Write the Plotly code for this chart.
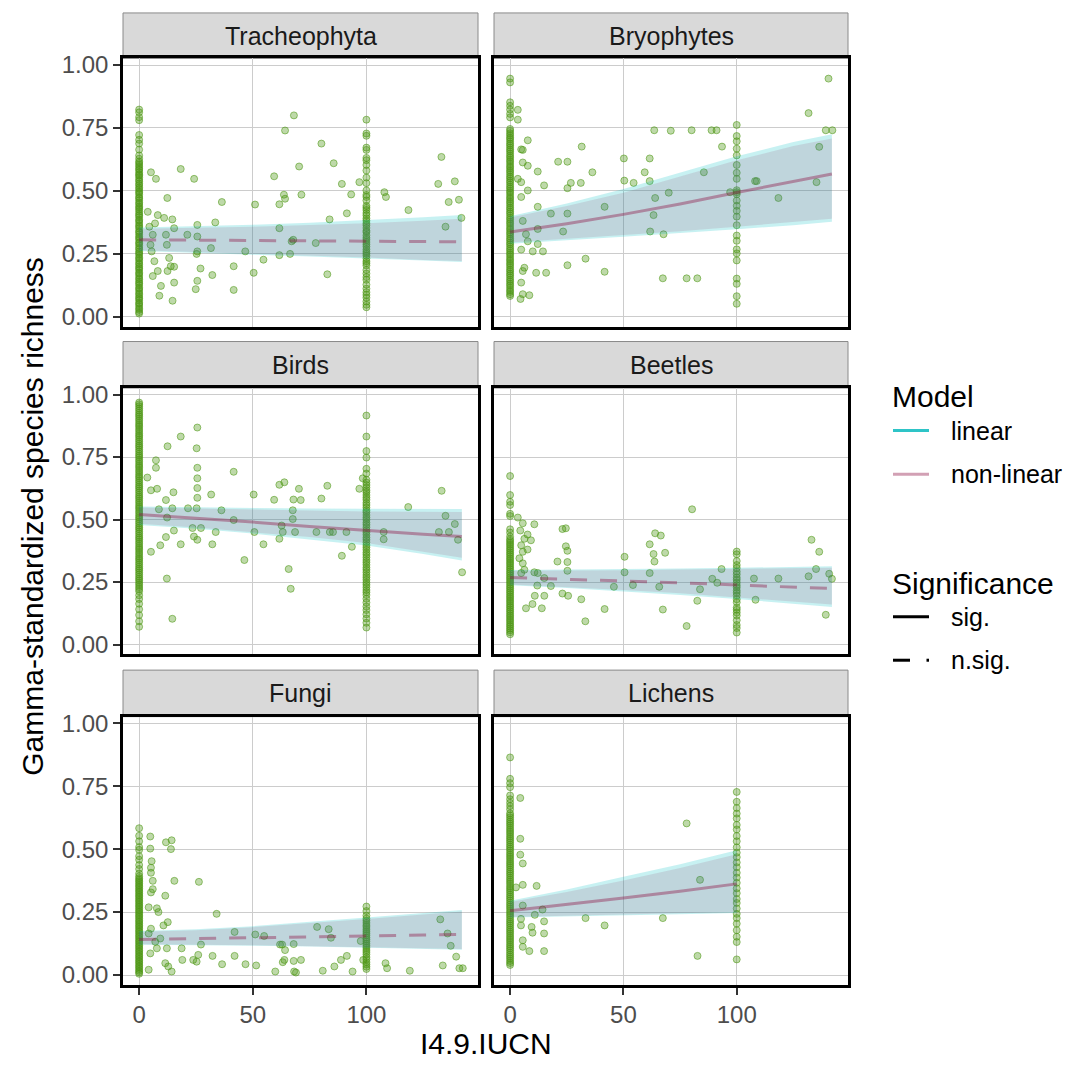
import plotly.graph_objects as go

# ---------------------------------------------------------------- data
taxa = ["Tracheophyta", "Bryophytes", "Birds", "Beetles", "Fungi", "Lichens"]
significant = [False, True, True, False, False, True]
y_ticks = [0.0, 0.25, 0.5, 0.75, 1.0]
y_tick_labels = ["0.00", "0.25", "0.50", "0.75", "1.00"]
x_ticks = [0, 50, 100]
x_tick_labels = ["0", "50", "100"]

# Tracheophyta
tra_at0 = [0.823, 0.812, 0.793, 0.781, 0.722, 0.703, 0.688, 0.664, 0.641, 0.628, 0.617, 0.611,
           0.603, 0.596, 0.588, 0.583, 0.574, 0.566, 0.561, 0.553, 0.544, 0.538, 0.529, 0.523,
           0.514, 0.508, 0.499, 0.493, 0.486, 0.476, 0.471, 0.463, 0.454, 0.448, 0.439, 0.433,
           0.426, 0.418, 0.409, 0.403, 0.396, 0.386, 0.381, 0.373, 0.364, 0.358, 0.351, 0.341,
           0.336, 0.328, 0.319, 0.313, 0.306, 0.296, 0.291, 0.283, 0.274, 0.268, 0.259, 0.253,
           0.246, 0.236, 0.231, 0.223, 0.214, 0.208, 0.199, 0.193, 0.186, 0.176, 0.171, 0.163,
           0.154, 0.148, 0.139, 0.133, 0.126, 0.116, 0.111, 0.103, 0.094, 0.088, 0.079, 0.073,
           0.066, 0.056, 0.051, 0.043, 0.034, 0.028, 0.019, 0.013]
tra_at100 = [0.783, 0.728, 0.719, 0.672, 0.663, 0.631, 0.622, 0.603, 0.581, 0.553, 0.531, 0.502,
             0.484, 0.476, 0.462, 0.441, 0.433, 0.424, 0.412, 0.403, 0.391, 0.382, 0.372, 0.364,
             0.353, 0.342, 0.336, 0.324, 0.314, 0.306, 0.297, 0.288, 0.279, 0.268, 0.259, 0.251,
             0.243, 0.232, 0.221, 0.213, 0.204, 0.186, 0.172, 0.158, 0.147, 0.128, 0.112, 0.098,
             0.087, 0.076, 0.061, 0.048, 0.038]
tra_other = [(18.3, 0.587), (24.2, 0.548), (5.2, 0.574), (7.4, 0.548), (12.4, 0.472), (11.0, 0.393),
             (14.6, 0.387), (15.4, 0.352), (21.2, 0.326), (25.6, 0.365), (25.6, 0.319), (33.5, 0.375),
             (36.4, 0.456), (31.6, 0.273), (25.6, 0.26), (25.3, 0.25), (27.0, 0.192), (32.2, 0.166),
             (25.6, 0.143), (24.9, 0.11), (41.6, 0.201), (41.6, 0.107), (46.7, 0.26), (50.4, 0.175),
             (51.0, 0.446), (54.7, 0.227), (59.4, 0.558), (61.7, 0.352), (61.7, 0.447), (63.7, 0.485),
             (64.2, 0.469), (64.2, 0.74), (68.1, 0.80), (70.4, 0.597), (71.4, 0.485), (67.1, 0.30),
             (66.4, 0.25), (61.7, 0.245), (67.8, 0.306), (77.7, 0.293), (80.2, 0.688), (83.8, 0.387),
             (82.8, 0.169), (85.6, 0.61), (89.2, 0.528), (91.4, 0.411), (93.3, 0.486), (96.9, 0.535),
             (107.9, 0.495), (108.6, 0.476), (118.5, 0.424), (131.6, 0.528), (133.0, 0.635),
             (134.8, 0.358), (136.2, 0.456), (138.9, 0.538), (140.7, 0.465), (141.8, 0.393),
             (3.8, 0.417), (4.5, 0.358), (6.0, 0.326), (7.0, 0.371), (8.2, 0.404), (5.0, 0.286),
             (6.7, 0.221), (8.2, 0.182), (9.6, 0.123), (8.9, 0.084), (14.7, 0.064), (15.4, 0.136),
             (12.5, 0.182), (13.9, 0.201), (11.8, 0.326), (12.2, 0.286), (13.2, 0.234), (6.0, 0.162),
             (5.5, 0.26), (15.4, 0.199)]
tra_fit_x = [0, 25, 50, 75, 100, 125, 142]
tra_fit = [0.306, 0.305, 0.304, 0.302, 0.301, 0.299, 0.298]
tra_nl_lo = [0.265, 0.258, 0.250, 0.243, 0.236, 0.226, 0.222]
tra_nl_hi = [0.350, 0.353, 0.358, 0.365, 0.372, 0.382, 0.390]
tra_lin_lo = [0.262, 0.255, 0.247, 0.240, 0.233, 0.224, 0.218]
tra_lin_hi = [0.355, 0.360, 0.366, 0.374, 0.384, 0.396, 0.404]

# Bryophytes
bry_at0 = [0.946, 0.931, 0.852, 0.838, 0.823, 0.806, 0.792, 0.746, 0.738, 0.729, 0.721, 0.712,
           0.706, 0.697, 0.688, 0.681, 0.672, 0.664, 0.657, 0.648, 0.639, 0.632, 0.623, 0.616,
           0.607, 0.598, 0.591, 0.582, 0.575, 0.566, 0.557, 0.55, 0.541, 0.534, 0.525, 0.516,
           0.509, 0.5, 0.493, 0.484, 0.475, 0.468, 0.459, 0.452, 0.443, 0.434, 0.427, 0.418,
           0.411, 0.402, 0.393, 0.386, 0.377, 0.37, 0.361, 0.352, 0.345, 0.336, 0.329, 0.32,
           0.311, 0.304, 0.295, 0.288, 0.279, 0.27, 0.263, 0.254, 0.247, 0.238, 0.229, 0.222,
           0.213, 0.206, 0.197, 0.188, 0.181, 0.172, 0.165, 0.156, 0.147, 0.14, 0.131, 0.124,
           0.115, 0.106, 0.099, 0.09, 0.083]
bry_at100 = [0.762, 0.718, 0.697, 0.668, 0.641, 0.603, 0.572, 0.548, 0.503, 0.495, 0.487, 0.462,
             0.441, 0.421, 0.398, 0.364, 0.323, 0.302, 0.268, 0.252, 0.224, 0.152, 0.131, 0.082,
             0.052]
bry_other = [(3.4, 0.822), (3.4, 0.783), (7.8, 0.701), (4.9, 0.665), (5.6, 0.663), (5.6, 0.613),
             (7.8, 0.60), (12.2, 0.577), (3.4, 0.548), (4.9, 0.535), (7.8, 0.502), (4.9, 0.476),
             (15.0, 0.522), (12.2, 0.437), (5.6, 0.381), (7.0, 0.328), (12.2, 0.349), (7.8, 0.30),
             (12.2, 0.289), (4.9, 0.267), (10.0, 0.26), (14.5, 0.26), (6.3, 0.195), (5.6, 0.182),
             (11.5, 0.175), (15.9, 0.175), (4.9, 0.136), (5.6, 0.09), (8.5, 0.086), (4.6, 0.071),
             (21.2, 0.616), (25.3, 0.616), (31.6, 0.676), (36.3, 0.574), (31.2, 0.532), (26.8, 0.532),
             (25.3, 0.511), (18.0, 0.41), (25.3, 0.41), (23.4, 0.339), (33.3, 0.231), (25.3, 0.205),
             (41.7, 0.437), (41.7, 0.179), (50.2, 0.629), (50.4, 0.541), (54.5, 0.532), (61.6, 0.629),
             (59.4, 0.574), (61.6, 0.539), (64.0, 0.472), (63.3, 0.404), (61.8, 0.339), (67.7, 0.328),
             (70.0, 0.493), (67.4, 0.153), (77.9, 0.153), (82.6, 0.153), (63.6, 0.741), (70.9, 0.739),
             (80.1, 0.741), (88.9, 0.741), (91.1, 0.741), (85.5, 0.574), (93.5, 0.676), (97.1, 0.495),
             (108.1, 0.539), (108.8, 0.539), (118.4, 0.472), (131.7, 0.809), (140.5, 0.946),
             (139.3, 0.741), (142.2, 0.741), (136.4, 0.675), (135.2, 0.535)]
bry_fit_x = [0, 25, 50, 75, 100, 125, 142]
bry_fit = [0.337, 0.370, 0.407, 0.448, 0.494, 0.537, 0.567]
bry_nl_lo = [0.295, 0.310, 0.325, 0.340, 0.358, 0.376, 0.390]
bry_nl_hi = [0.395, 0.440, 0.493, 0.557, 0.622, 0.678, 0.708]
bry_lin_lo = [0.290, 0.304, 0.318, 0.332, 0.348, 0.364, 0.378]
bry_lin_hi = [0.400, 0.450, 0.508, 0.574, 0.638, 0.694, 0.725]

# Birds
bir_at0 = [0.968, 0.961, 0.953, 0.944, 0.936, 0.927, 0.919, 0.912, 0.903, 0.895, 0.886, 0.878,
           0.871, 0.862, 0.854, 0.845, 0.837, 0.83, 0.821, 0.813, 0.804, 0.796, 0.789, 0.78,
           0.772, 0.763, 0.755, 0.748, 0.739, 0.731, 0.722, 0.714, 0.707, 0.698, 0.69, 0.681,
           0.673, 0.666, 0.657, 0.649, 0.64, 0.632, 0.625, 0.616, 0.608, 0.599, 0.591, 0.584,
           0.575, 0.567, 0.558, 0.55, 0.543, 0.534, 0.526, 0.517, 0.509, 0.502, 0.493, 0.485,
           0.476, 0.468, 0.461, 0.452, 0.444, 0.435, 0.427, 0.42, 0.411, 0.403, 0.394, 0.386,
           0.379, 0.37, 0.362, 0.353, 0.345, 0.338, 0.329, 0.321, 0.312, 0.304, 0.297, 0.288,
           0.28, 0.271, 0.263, 0.256, 0.247, 0.239, 0.23, 0.222, 0.213, 0.197, 0.182, 0.163,
           0.141, 0.118, 0.093, 0.071]
bir_at100 = [0.916, 0.832, 0.774, 0.748, 0.703, 0.684, 0.659, 0.648, 0.638, 0.628, 0.617, 0.609,
             0.598, 0.588, 0.579, 0.567, 0.558, 0.548, 0.537, 0.529, 0.518, 0.508, 0.499, 0.488,
             0.479, 0.469, 0.458, 0.449, 0.439, 0.428, 0.419, 0.409, 0.398, 0.389, 0.379, 0.368,
             0.359, 0.349, 0.338, 0.329, 0.319, 0.308, 0.299, 0.289, 0.278, 0.269, 0.259, 0.248,
             0.239, 0.229, 0.218, 0.209, 0.198, 0.183, 0.168, 0.152, 0.138, 0.121, 0.104, 0.087,
             0.068]
bir_other = [(12.5, 0.793), (18.3, 0.832), (25.6, 0.868), (25.3, 0.785), (25.6, 0.707), (25.6, 0.665),
             (25.6, 0.626), (25.6, 0.587), (25.3, 0.545), (21.5, 0.545), (15.1, 0.609), (11.8, 0.578),
             (7.4, 0.737), (7.4, 0.707), (5.2, 0.617), (7.9, 0.623), (3.6, 0.668), (8.7, 0.541),
             (12.3, 0.508), (14.6, 0.545), (15.3, 0.456), (11.8, 0.43), (9.3, 0.397), (5.2, 0.371),
             (18.3, 0.401), (12.2, 0.264), (14.6, 0.103), (23.5, 0.466), (27.2, 0.466), (25.6, 0.419),
             (24.1, 0.432), (32.2, 0.401), (33.7, 0.45), (31.7, 0.60), (36.2, 0.537), (41.6, 0.691),
             (41.6, 0.498), (46.3, 0.338), (50.4, 0.60), (50.7, 0.45), (54.7, 0.401), (59.4, 0.579),
             (61.7, 0.639), (63.9, 0.649), (61.7, 0.423), (62.7, 0.476), (63.2, 0.45), (67.6, 0.537),
             (67.6, 0.502), (67.9, 0.58), (70.3, 0.623), (71.1, 0.578), (68.6, 0.45), (65.8, 0.302),
             (66.7, 0.223), (78.0, 0.45), (80.2, 0.584), (82.8, 0.635), (83.9, 0.45), (85.3, 0.45),
             (91.2, 0.45), (89.2, 0.355), (93.6, 0.391), (96.9, 0.623), (98.4, 0.665), (107.6, 0.421),
             (107.6, 0.45), (118.4, 0.55), (131.9, 0.45), (133.1, 0.615), (134.8, 0.515),
             (136.3, 0.45), (138.9, 0.482), (140.3, 0.419), (142.1, 0.289)]
bir_fit_x = [0, 25, 50, 75, 100, 125, 142]
bir_fit = [0.520, 0.506, 0.490, 0.472, 0.455, 0.441, 0.432]
bir_nl_lo = [0.483, 0.468, 0.450, 0.430, 0.406, 0.372, 0.347]
bir_nl_hi = [0.548, 0.545, 0.540, 0.536, 0.532, 0.530, 0.530]
bir_lin_lo = [0.478, 0.463, 0.444, 0.421, 0.396, 0.362, 0.336]
bir_lin_hi = [0.552, 0.549, 0.546, 0.544, 0.543, 0.542, 0.542]

# Beetles
bee_at0 = [0.674, 0.598, 0.571, 0.558, 0.523, 0.514, 0.461, 0.448, 0.432, 0.421, 0.414, 0.406,
           0.399, 0.391, 0.383, 0.376, 0.368, 0.361, 0.353, 0.345, 0.338, 0.33, 0.323, 0.315,
           0.307, 0.3, 0.292, 0.285, 0.277, 0.269, 0.262, 0.254, 0.247, 0.239, 0.231, 0.224,
           0.216, 0.209, 0.201, 0.193, 0.186, 0.178, 0.171, 0.163, 0.155, 0.148, 0.14, 0.133,
           0.125, 0.117, 0.11, 0.102, 0.095, 0.087, 0.079, 0.072, 0.064, 0.057, 0.049, 0.041]
bee_at100 = [0.372, 0.361, 0.334, 0.318, 0.306, 0.292, 0.281, 0.268, 0.259, 0.248, 0.237, 0.228,
             0.216, 0.207, 0.196, 0.181, 0.169, 0.148, 0.139, 0.128, 0.116, 0.097, 0.078, 0.066,
             0.048]
bee_other = [(3.4, 0.508), (5.6, 0.485), (10.7, 0.481), (4.5, 0.456), (7.7, 0.44), (6.3, 0.423),
             (9.2, 0.417), (4.9, 0.397), (7.7, 0.38), (5.6, 0.371), (4.1, 0.345), (5.6, 0.325),
             (6.3, 0.299), (4.9, 0.286), (10.7, 0.289), (12.2, 0.286), (15.1, 0.266), (12.0, 0.236),
             (18.0, 0.234), (10.9, 0.195), (15.1, 0.195), (9.9, 0.162), (7.0, 0.145), (14.0, 0.145),
             (23.1, 0.462), (24.6, 0.465), (24.6, 0.393), (25.3, 0.375), (20.9, 0.332), (25.3, 0.33),
             (25.3, 0.295), (23.1, 0.204), (25.6, 0.195), (31.4, 0.181), (33.2, 0.093), (41.7, 0.142),
             (45.8, 0.231), (50.5, 0.351), (50.5, 0.289), (54.2, 0.238), (61.6, 0.401), (61.6, 0.286),
             (63.3, 0.362), (63.7, 0.332), (64.0, 0.445), (66.5, 0.436), (68.4, 0.367), (65.8, 0.231),
             (67.4, 0.14), (77.9, 0.074), (80.3, 0.541), (82.6, 0.175), (83.8, 0.221), (89.2, 0.263),
             (91.4, 0.247), (93.3, 0.302), (107.6, 0.264), (108.3, 0.179), (118.4, 0.264),
             (131.7, 0.273), (133.0, 0.419), (135.0, 0.302), (136.4, 0.371), (139.3, 0.119),
             (140.8, 0.283), (142.0, 0.263)]
bee_fit_x = [0, 25, 50, 75, 100, 125, 142]
bee_fit = [0.268, 0.262, 0.255, 0.247, 0.238, 0.230, 0.224]
bee_nl_lo = [0.240, 0.230, 0.218, 0.205, 0.190, 0.172, 0.160]
bee_nl_hi = [0.295, 0.295, 0.297, 0.300, 0.302, 0.305, 0.307]
bee_lin_lo = [0.237, 0.226, 0.213, 0.198, 0.182, 0.163, 0.150]
bee_lin_hi = [0.298, 0.299, 0.301, 0.304, 0.307, 0.310, 0.313]

# Fungi
fun_at0 = [0.583, 0.553, 0.531, 0.508, 0.497, 0.472, 0.458, 0.437, 0.421, 0.403, 0.392, 0.384,
           0.377, 0.371, 0.364, 0.357, 0.351, 0.344, 0.337, 0.331, 0.324, 0.317, 0.311, 0.304,
           0.297, 0.291, 0.284, 0.277, 0.271, 0.264, 0.257, 0.251, 0.244, 0.237, 0.231, 0.224,
           0.217, 0.211, 0.204, 0.197, 0.191, 0.184, 0.177, 0.171, 0.164, 0.157, 0.151, 0.144,
           0.137, 0.131, 0.124, 0.117, 0.111, 0.104, 0.097, 0.091, 0.084, 0.077, 0.071, 0.064,
           0.057, 0.051, 0.044, 0.037, 0.031, 0.024, 0.017, 0.011, 0.005]
fun_at100 = [0.272, 0.254, 0.236, 0.224, 0.216, 0.207, 0.198, 0.191, 0.182, 0.174, 0.166, 0.158,
             0.149, 0.141, 0.133, 0.124, 0.116, 0.108, 0.099, 0.091, 0.082, 0.071, 0.062, 0.051,
             0.042, 0.033, 0.024]
fun_other = [(4.9, 0.55), (4.9, 0.502), (5.5, 0.452), (5.2, 0.426), (5.2, 0.406), (6.0, 0.374),
             (6.0, 0.341), (5.2, 0.328), (11.8, 0.527), (14.3, 0.535), (14.0, 0.50), (15.5, 0.374),
             (11.5, 0.315), (4.2, 0.269), (7.8, 0.265), (8.5, 0.25), (10.7, 0.197), (12.6, 0.21),
             (5.2, 0.184), (4.2, 0.165), (7.1, 0.132), (9.3, 0.145), (7.8, 0.106), (12.2, 0.106),
             (11.5, 0.047), (14.3, 0.014), (4.2, 0.021), (4.9, 0.086), (12.8, 0.034), (18.7, 0.106),
             (19.0, 0.06), (23.8, 0.06), (25.3, 0.053), (26.0, 0.08), (27.2, 0.121), (26.3, 0.37),
             (34.1, 0.243), (32.3, 0.076), (36.5, 0.043), (42.0, 0.171), (42.0, 0.076), (46.8, 0.043),
             (51.1, 0.161), (51.5, 0.038), (55.0, 0.155), (59.9, 0.014), (62.0, 0.121), (62.9, 0.121),
             (63.9, 0.06), (64.2, 0.099), (63.2, 0.051), (68.0, 0.056), (68.2, 0.014), (69.0, 0.01),
             (68.0, 0.123), (71.2, 0.06), (78.3, 0.191), (80.8, 0.017), (83.4, 0.182), (84.4, 0.148),
             (85.9, 0.034), (88.8, 0.06), (91.4, 0.076), (93.9, 0.014), (97.5, 0.135), (98.6, 0.06),
             (108.4, 0.047), (109.1, 0.027), (119.1, 0.017), (132.5, 0.221), (133.6, 0.038),
             (135.7, 0.165), (137.1, 0.116), (139.5, 0.073), (140.9, 0.027), (142.4, 0.027)]
fun_fit_x = [0, 25, 50, 75, 100, 125, 142]
fun_fit = [0.141, 0.144, 0.147, 0.151, 0.155, 0.159, 0.161]
fun_nl_lo = [0.122, 0.120, 0.118, 0.115, 0.111, 0.106, 0.103]
fun_nl_hi = [0.172, 0.178, 0.190, 0.205, 0.222, 0.240, 0.252]
fun_lin_lo = [0.120, 0.118, 0.116, 0.113, 0.109, 0.104, 0.100]
fun_lin_hi = [0.175, 0.182, 0.194, 0.210, 0.228, 0.246, 0.258]

# Lichens
lic_at0 = [0.864, 0.779, 0.762, 0.746, 0.713, 0.698, 0.684, 0.671, 0.658, 0.642, 0.634, 0.626,
           0.617, 0.609, 0.601, 0.593, 0.584, 0.576, 0.568, 0.56, 0.551, 0.543, 0.535, 0.527,
           0.518, 0.51, 0.502, 0.494, 0.485, 0.477, 0.469, 0.461, 0.452, 0.444, 0.436, 0.428,
           0.419, 0.411, 0.403, 0.395, 0.386, 0.378, 0.37, 0.362, 0.353, 0.345, 0.337, 0.329,
           0.32, 0.312, 0.304, 0.296, 0.287, 0.279, 0.271, 0.263, 0.254, 0.246, 0.238, 0.23,
           0.221, 0.213, 0.205, 0.197, 0.188, 0.18, 0.172, 0.164, 0.155, 0.147, 0.139, 0.131,
           0.122, 0.114, 0.106, 0.098, 0.089, 0.081, 0.073, 0.065, 0.056, 0.048, 0.04]
lic_at100 = [0.727, 0.688, 0.663, 0.641, 0.622, 0.596, 0.578, 0.552, 0.531, 0.507, 0.486, 0.468,
             0.447, 0.428, 0.406, 0.387, 0.366, 0.344, 0.325, 0.302, 0.286, 0.264, 0.243, 0.226,
             0.204, 0.178, 0.152, 0.131, 0.062]
lic_other = [(4.5, 0.703), (4.5, 0.541), (4.5, 0.478), (5.6, 0.443), (5.6, 0.358), (11.7, 0.354),
             (2.6, 0.348), (5.6, 0.276), (4.8, 0.223), (4.8, 0.197), (9.5, 0.191), (9.9, 0.168),
             (15.0, 0.213), (15.0, 0.165), (5.6, 0.138), (5.6, 0.112), (8.5, 0.095), (15.0, 0.095),
             (10.9, 0.239), (14.3, 0.26), (33.3, 0.226), (41.7, 0.197), (67.4, 0.226), (77.9, 0.602),
             (82.7, 0.076), (83.8, 0.378)]
lic_fit_x = [0, 25, 50, 75, 100]
lic_fit = [0.255, 0.280, 0.306, 0.333, 0.362]
lic_nl_lo = [0.230, 0.235, 0.240, 0.245, 0.250]
lic_nl_hi = [0.290, 0.330, 0.375, 0.425, 0.480]
lic_lin_lo = [0.228, 0.232, 0.236, 0.241, 0.246]
lic_lin_hi = [0.295, 0.340, 0.390, 0.440, 0.495]

# ---------------------------------------------------------------- styling
W = H = 1071
FONT = "Liberation Sans, Arial, Helvetica, sans-serif"
PT_FILL = "rgba(74,150,16,0.36)"
PT_EDGE = "rgba(74,150,16,0.55)"
LIN_RIBBON = "rgba(0,191,196,0.22)"
NL_RIBBON = "rgba(143,18,67,0.12)"
NL_LINE = "rgba(143,18,67,0.40)"
LIN_KEY = "#2ec4c7"
GRID = "#cccccc"

col_px = [(123, 478), (494, 848)]
row_px = [(52, 323), (385, 654), (717, 988)]
strip_px = [(6, 52), (338, 385), (670, 717)]
X_RANGE = [-7.1, 149.1]
Y_RANGE = [-0.039, 1.026]


def fx(p):
    return p / W


def fy(p):
    return 1 - p / H


panels = [
    (tra_at0, tra_at100, tra_other, tra_fit_x, tra_fit, tra_nl_lo, tra_nl_hi, tra_lin_lo, tra_lin_hi),
    (bry_at0, bry_at100, bry_other, bry_fit_x, bry_fit, bry_nl_lo, bry_nl_hi, bry_lin_lo, bry_lin_hi),
    (bir_at0, bir_at100, bir_other, bir_fit_x, bir_fit, bir_nl_lo, bir_nl_hi, bir_lin_lo, bir_lin_hi),
    (bee_at0, bee_at100, bee_other, bee_fit_x, bee_fit, bee_nl_lo, bee_nl_hi, bee_lin_lo, bee_lin_hi),
    (fun_at0, fun_at100, fun_other, fun_fit_x, fun_fit, fun_nl_lo, fun_nl_hi, fun_lin_lo, fun_lin_hi),
    (lic_at0, lic_at100, lic_other, lic_fit_x, lic_fit, lic_nl_lo, lic_nl_hi, lic_lin_lo, lic_lin_hi),
]

fig = go.Figure()
layout = dict(
    width=W, height=H, margin=dict(l=0, r=0, t=0, b=0),
    paper_bgcolor="white", plot_bgcolor="white", showlegend=False,
    font=dict(family=FONT, color="#4d4d4d"),
)
shapes = []
annotations = []

for i, (taxon, sig, data) in enumerate(zip(taxa, significant, panels)):
    at0, at100, other, fx_, fit, nl_lo, nl_hi, lin_lo, lin_hi = data
    r, c = divmod(i, 2)
    xa = "x" if i == 0 else f"x{i + 1}"
    ya = "y" if i == 0 else f"y{i + 1}"

    px_ = [0.0] * len(at0) + [100.0] * len(at100) + [p[0] for p in other]
    py_ = list(at0) + list(at100) + [p[1] for p in other]
    fig.add_trace(go.Scatter(
        x=px_, y=py_, mode="markers", xaxis=xa, yaxis=ya, hoverinfo="skip",
        marker=dict(size=7, color=PT_FILL, line=dict(color=PT_EDGE, width=1)),
    ))
    # linear model confidence band
    fig.add_trace(go.Scatter(
        x=list(fx_) + list(fx_)[::-1], y=list(lin_hi) + list(lin_lo)[::-1],
        fill="toself", fillcolor=LIN_RIBBON, line=dict(width=0), mode="lines",
        xaxis=xa, yaxis=ya, hoverinfo="skip",
    ))
    # non-linear model confidence band
    fig.add_trace(go.Scatter(
        x=list(fx_) + list(fx_)[::-1], y=list(nl_hi) + list(nl_lo)[::-1],
        fill="toself", fillcolor=NL_RIBBON, line=dict(width=0), mode="lines",
        xaxis=xa, yaxis=ya, hoverinfo="skip",
    ))
    fig.add_trace(go.Scatter(
        x=fx_, y=fit, mode="lines", xaxis=xa, yaxis=ya, hoverinfo="skip",
        line=dict(color=NL_LINE, width=3, dash="solid" if sig else "17px,13px"),
    ))

    x0, x1 = col_px[c]
    y0, y1 = row_px[r]
    axis_common = dict(
        showgrid=True, gridcolor=GRID, gridwidth=1.2, zeroline=False,
        showline=True, mirror=True, linecolor="black", linewidth=2.5,
        tickfont=dict(family=FONT, size=24, color="#4d4d4d"),
        tickcolor="#333333", ticklen=7, tickwidth=1.5,
    )
    layout["xaxis" if i == 0 else f"xaxis{i + 1}"] = dict(
        axis_common, domain=[fx(x0), fx(x1)], anchor=ya, range=X_RANGE,
        tickmode="array", tickvals=x_ticks, ticktext=x_tick_labels,
        showticklabels=(r == 2), ticks="outside" if r == 2 else "",
    )
    layout["yaxis" if i == 0 else f"yaxis{i + 1}"] = dict(
        axis_common, domain=[fy(y1), fy(y0)], anchor=xa, range=Y_RANGE,
        tickmode="array", tickvals=y_ticks, ticktext=y_tick_labels,
        showticklabels=(c == 0), ticks="outside" if c == 0 else "",
    )

    s0, s1 = strip_px[r]
    shapes.append(dict(type="rect", xref="paper", yref="paper",
                       x0=fx(x0), x1=fx(x1), y0=fy(s1), y1=fy(s0),
                       fillcolor="#d9d9d9", line=dict(color="#8a8a8a", width=1), layer="below"))
    annotations.append(dict(text=taxon, xref="paper", yref="paper",
                            x=fx((x0 + x1) / 2), y=fy((s0 + s1) / 2),
                            showarrow=False, xanchor="center", yanchor="middle",
                            font=dict(family=FONT, size=25, color="#1a1a1a")))

# axis titles
annotations.append(dict(text="I4.9.IUCN", xref="paper", yref="paper", x=fx(486), y=fy(1047),
                        showarrow=False, xanchor="center", yanchor="middle",
                        font=dict(family=FONT, size=30, color="black")))
annotations.append(dict(text="Gamma-standardized species richness", xref="paper", yref="paper",
                        x=fx(33), y=fy(515), textangle=-90, showarrow=False,
                        xanchor="center", yanchor="middle",
                        font=dict(family=FONT, size=30, color="black")))

# legends
legend_titles = [("Model", 394), ("Significance", 582)]
for txt, yy in legend_titles:
    annotations.append(dict(text=txt, xref="paper", yref="paper", x=fx(890), y=fy(yy),
                            showarrow=False, xanchor="left", yanchor="middle",
                            font=dict(family=FONT, size=30, color="black")))
legend_items = [("linear", 428, LIN_KEY, "solid"), ("non-linear", 472, NL_LINE, "solid"),
                ("sig.", 616, "black", "solid"), ("n.sig.", 660, "black", "dash")]
for txt, yy, colr, style in legend_items:
    annotations.append(dict(text=txt, xref="paper", yref="paper", x=fx(949), y=fy(yy),
                            showarrow=False, xanchor="left", yanchor="middle",
                            font=dict(family=FONT, size=25, color="black")))
    if style == "solid":
        shapes.append(dict(type="line", xref="paper", yref="paper", x0=fx(893), x1=fx(929),
                           y0=fy(yy), y1=fy(yy), line=dict(color=colr, width=3)))
    else:
        shapes.append(dict(type="line", xref="paper", yref="paper", x0=fx(893), x1=fx(910),
                           y0=fy(yy), y1=fy(yy), line=dict(color=colr, width=3)))
        shapes.append(dict(type="line", xref="paper", yref="paper", x0=fx(926.5), x1=fx(929),
                           y0=fy(yy), y1=fy(yy), line=dict(color=colr, width=3)))

layout["shapes"] = shapes
layout["annotations"] = annotations
fig.update_layout(**layout)
fig.write_html("out.html")
